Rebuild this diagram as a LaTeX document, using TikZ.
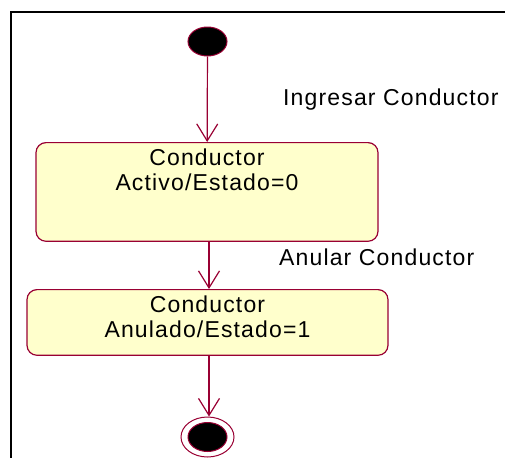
\documentclass[tikz,border=0pt]{standalone}
\usepackage{fontspec}
\setmainfont{Liberation Sans}[LetterSpace=5]
\usepackage{tikz}
\usetikzlibrary{shapes.geometric, arrows.meta, positioning}
\definecolor{umlred}{HTML}{990033}
\definecolor{umlfill}{HTML}{FFFFCC}

\begin{document}
\begin{tikzpicture}[
  x=1pt, y=-1pt,
  state/.style={rectangle, draw=umlred, fill=umlfill, rounded corners=10pt, line width=1.2pt, align=center, inner ysep=6pt, anchor=north, font=\fontsize{23}{25}\selectfont},
  dot/.style={ellipse, draw=umlred, fill=black, line width=1pt, minimum width=39pt, minimum height=29pt, inner sep=0pt},
  ring/.style={ellipse, draw=umlred, line width=1pt, minimum width=53pt, minimum height=40pt, inner sep=0pt},
  trans/.style={-{Straight Barb[length=17pt, width=21pt]}, umlred, line width=1.2pt},
  evento/.style={anchor=base west, inner sep=0pt, font=\fontsize{23}{25}\selectfont}
]
  \useasboundingbox (0,0) rectangle (505,458);
  \draw[line width=2pt] (505,11.7) -- (10.5,11.7) -- (10.5,458);

  \node[dot] (inicio) at (207.5,41.5) {};
  \node[state, minimum width=342pt, text depth=45pt] (activo) at (207,142) {Conductor\\Activo/Estado=0};
  \node[state, minimum width=361pt, text depth=12pt] (anulado) at (207.5,289) {Conductor\\Anulado/Estado=1};
  \node[ring] (fin) at (207.5,437) {};
  \node[dot] (finin) at (fin.center) {};

  \node[evento] (ingresar) at (283,105) {Ingresar Conductor};
  \node[evento] (anular) at (279,265) {Anular Conductor};

  \draw[trans] (inicio) -- (activo);
  \draw[trans] ([xshift=2pt]activo.south) -- ([xshift=1.5pt]anulado.north);
  \draw[trans] ([xshift=1.5pt]anulado.south) -- ([xshift=1.5pt]fin.north);
\end{tikzpicture}
\end{document}
